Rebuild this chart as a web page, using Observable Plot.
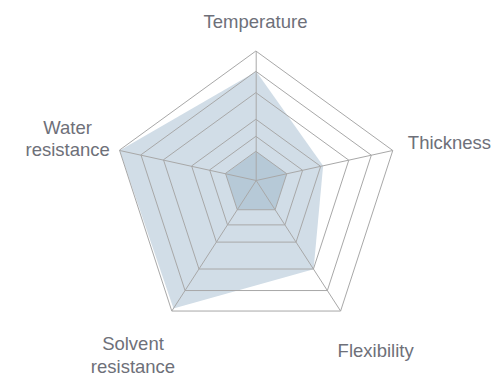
<!DOCTYPE html>
<html><head><meta charset="utf-8">
<script src="https://cdn.jsdelivr.net/npm/d3@7"></script>
<script src="https://cdn.jsdelivr.net/npm/@observablehq/plot@0.6"></script>
<style>body{margin:0;background:#fff;font-family:"Liberation Sans",Arial,sans-serif}</style>
</head><body><div id="chart"></div>
<script>
// ---- data ----
const axes = ["Temperature", "Thickness", "Flexibility", "Solvent resistance", "Water resistance"];
const axisLabels = ["Temperature", "Thickness", "Flexibility", "Solvent\nresistance", "Water\nresistance"];
const seriesValues = [84.3, 49, 68, 98, 100];
const baselineValues = [22.4, 22.4, 22.4, 22.4, 22.4];
const gridLevels = [22.4, 34, 47.2, 67.8, 84.3, 100];
const maxValue = 100;

// ---- layout / style ----
const W = 495, H = 376;
const cx = 255.7, cy = 180, R = 143.6, tilt = 0.1;
const labelOffsets = [[-0.7, -30.8], [56.7, -9], [35, 38.5], [-38.8, 43.3], [-52, -12.5]];
const r = d3.scaleLinear([0, maxValue], [0, R]);
const angleOf = i => (90 - 72 * i) * Math.PI / 180;
const pt = (i, v) => {
  const a = angleOf(i), rr = r(v);
  return {x: rr * Math.cos(a), y: rr * (Math.sin(a) - tilt)};
};

const seriesPts = axes.map((name, i) => ({axis: name, ...pt(i, seriesValues[i])}));
const basePts = axes.map((name, i) => ({axis: name, ...pt(i, baselineValues[i])}));
const gridPts = gridLevels.flatMap(lv => axes.map((name, i) => ({level: lv, ...pt(i, lv)})));
const spokes = axes.map((name, i) => ({axis: name, ...pt(i, maxValue)}));
const labels = axes.map((name, i) => {
  const p = pt(i, maxValue);
  return {text: axisLabels[i], x: p.x + labelOffsets[i][0], y: p.y - labelOffsets[i][1]};
});

const chart = Plot.plot({
  width: W, height: H,
  margin: 0,
  x: {domain: [-cx, W - cx], axis: null},
  y: {domain: [cy - H, cy], axis: null},
  style: {fontFamily: '"Liberation Sans", Arial, sans-serif', background: "#fff"},
  marks: [
    Plot.line(seriesPts, {x: "x", y: "y", curve: "linear-closed", fill: "#d1dde7", stroke: "none"}),
    Plot.line(basePts, {x: "x", y: "y", curve: "linear-closed", fill: "#b6c9d7", stroke: "none"}),
    Plot.line(gridPts, {x: "x", y: "y", z: "level", curve: "linear-closed", stroke: "#a8a8a8", strokeWidth: 1}),
    Plot.link(spokes, {x1: d => 0, y1: d => 0, x2: "x", y2: "y", stroke: "#a8a8a8", strokeWidth: 1}),
    Plot.text(labels, {x: "x", y: "y", text: "text", textAnchor: "middle", lineAnchor: "middle",
      lineHeight: 1.22, fontSize: 18.5, fill: "#6e7079"})
  ]
});
document.getElementById("chart").appendChild(chart);
</script>
</body></html>
